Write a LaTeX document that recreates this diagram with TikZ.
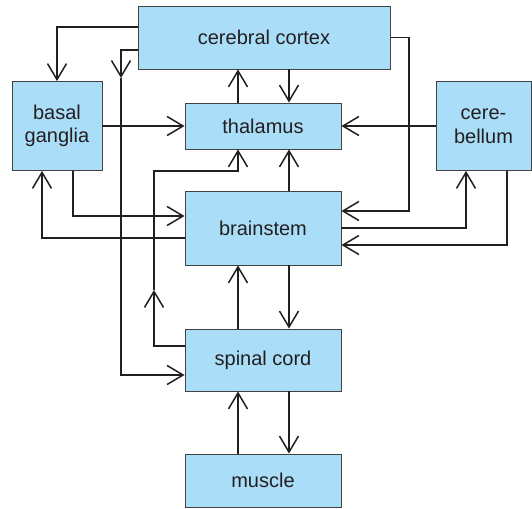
\documentclass[tikz,border=0pt]{standalone}
\usepackage{fontspec}
\setmainfont{Liberation Sans}
\usetikzlibrary{arrows.meta}
\definecolor{boxfill}{RGB}{170,222,248}
\definecolor{ink}{RGB}{35,31,32}
\begin{document}
\begin{tikzpicture}[x=1pt,y=-1pt,
  box/.style={draw=ink!85, line width=0.9pt, fill=boxfill, inner sep=0pt, align=center,
    font=\fontsize{20}{23.5}\selectfont, text=ink},
  arr/.style={draw=ink, line width=1.5pt, -{Straight Barb[length=16pt,width=19pt]}}]
\useasboundingbox (0,0) rectangle (532,508);
% boxes
\node[box, minimum width=252pt, minimum height=63pt] (cortex) at (264,37.5) {cerebral cortex};
\node[box, minimum width=156pt, minimum height=46pt] (thalamus) at (263,126) {thalamus};
\node[box, minimum width=90pt, minimum height=89pt] (basal) at (57,126) {basal\\ganglia};
\node[box, minimum width=95pt, minimum height=89pt] (cerebellum) at (483.5,126) {cere-\\bellum};
\node[box, minimum width=156pt, minimum height=74pt] (brainstem) at (263,228) {brainstem};
\node[box, minimum width=156pt, minimum height=62pt] (spinal) at (263,360) {spinal cord};
\node[box, minimum width=156pt, minimum height=53pt] (muscle) at (263,480.5) {muscle};
% helper coordinates
\coordinate (a2) at (121,78);
\coordinate (a9) at (154,290);
\coordinate (b9) at (154,171);
\coordinate (b10) at (409,211);
% connectors
\draw[arr] ([yshift=10.5pt]cortex.west) -| (basal.north);
\draw[arr] ([yshift=-12.5pt]cortex.west) -| (a2);
\draw[arr] (a2) |- ([yshift=-15pt]spinal.west);
\draw[arr] ([xshift=25pt]cortex.south) -- ([xshift=26pt]thalamus.north);
\draw[arr] ([xshift=-25pt]thalamus.north) -- ([xshift=-26pt]cortex.south);
\draw[arr] (basal.east) -- (thalamus.west);
\draw[arr] (cerebellum.west) -- (thalamus.east);
\draw[arr] ([xshift=16pt]basal.south) |- ([yshift=12pt]brainstem.west);
\draw[arr] ([yshift=-10pt]brainstem.west) -| ([xshift=-15pt]basal.south);
\draw[arr] ([xshift=26pt]brainstem.north) -- ([xshift=26pt]thalamus.south);
\draw[arr] ([yshift=14pt]spinal.west) -| (a9);
\draw[arr] (a9) -- (b9) -| ([xshift=-25pt]thalamus.south);
\draw[arr] (cortex.east) -| (b10) -- ([yshift=17pt]brainstem.east);
\draw[arr] (brainstem.east) -| ([xshift=-17.5pt]cerebellum.south);
\draw[arr] ([xshift=23.5pt]cerebellum.south) |- ([yshift=-17pt]brainstem.east);
\draw[arr] ([xshift=26pt]brainstem.south) -- ([xshift=26pt]spinal.north);
\draw[arr] ([xshift=-25pt]spinal.north) -- ([xshift=-25pt]brainstem.south);
\draw[arr] ([xshift=26pt]spinal.south) -- ([xshift=26pt]muscle.north);
\draw[arr] ([xshift=-25pt]muscle.north) -- ([xshift=-25pt]spinal.south);
\end{tikzpicture}
\end{document}
